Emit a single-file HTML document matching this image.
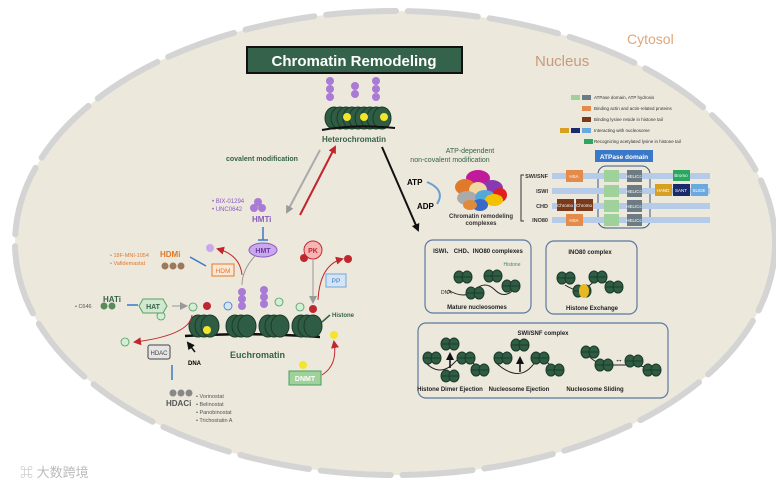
<!DOCTYPE html>
<html><head><meta charset="utf-8"><style>
html,body{margin:0;padding:0;background:#fff;}
svg{display:block;font-family:"Liberation Sans",Arial,sans-serif;}
</style></head><body>
<svg width="776" height="485" viewBox="0 0 776 485" xmlns="http://www.w3.org/2000/svg">
<defs>
<marker id="ab" markerUnits="userSpaceOnUse" markerWidth="8" markerHeight="8" refX="6" refY="4" orient="auto"><path d="M0,0 L8,4 L0,8z" fill="#111"/></marker>
<marker id="ar" markerUnits="userSpaceOnUse" markerWidth="8" markerHeight="8" refX="6" refY="4" orient="auto"><path d="M0,0 L8,4 L0,8z" fill="#c0262d"/></marker>
<marker id="ag" markerUnits="userSpaceOnUse" markerWidth="8" markerHeight="8" refX="6" refY="4" orient="auto"><path d="M0,0 L8,4 L0,8z" fill="#999"/></marker>
<g id="nuc"><ellipse cx="0" cy="0" rx="9" ry="11" fill="#2f5d44" stroke="#1b3a2a"/><ellipse cx="6" cy="0" rx="9" ry="11" fill="#2f5d44" stroke="#1b3a2a"/><ellipse cx="12" cy="0" rx="9" ry="11" fill="#2f5d44" stroke="#1b3a2a"/></g>
<g id="sn"><ellipse cx="-4" cy="0" rx="5" ry="6" fill="#2f5d44" stroke="#1b3a2a"/><ellipse cx="4" cy="0" rx="5" ry="6" fill="#2f5d44" stroke="#1b3a2a"/><line x1="-9" y1="0" x2="9" y2="0" stroke="#1b3a2a"/></g>
</defs>
<rect width="776" height="485" fill="#fff"/>
<ellipse cx="395" cy="243" rx="380" ry="232" fill="#ece8dc"/>
<ellipse cx="395" cy="243" rx="380" ry="232" fill="none" stroke="#d4d4d4" stroke-width="6" stroke-dasharray="70 12" stroke-linecap="round"/>
<text x="627" y="44" font-size="14" fill="#e0a67a">Cytosol</text>
<text x="535" y="66" font-size="15" fill="#c89a7a">Nucleus</text>
<rect x="247" y="47" width="215" height="26" fill="#35624a" stroke="#111" stroke-width="2"/>
<text x="354" y="66" font-size="15" font-weight="bold" fill="#fff" text-anchor="middle">Chromatin  Remodeling</text>
<g>
<use href="#nuc" x="334" y="118"/><use href="#nuc" x="352" y="118"/><use href="#nuc" x="370" y="118"/>
<path d="M322 130 Q355 124 395 128" stroke="#111" stroke-width="2" fill="none"/>
<circle cx="347" cy="117" r="4" fill="#f2e52a"/><circle cx="364" cy="117" r="4" fill="#f2e52a"/><circle cx="384" cy="117" r="4" fill="#f2e52a"/>
<g fill="#a97ad6"><circle cx="330" cy="81" r="4"/><circle cx="330" cy="89" r="4"/><circle cx="330" cy="97" r="4"/><circle cx="355" cy="86" r="4"/><circle cx="355" cy="94" r="4"/><circle cx="376" cy="81" r="4"/><circle cx="376" cy="89" r="4"/><circle cx="376" cy="97" r="4"/></g>
<text x="354" y="142" font-size="8" font-weight="bold" fill="#35624a" text-anchor="middle">Heterochromatin</text>
</g>
<line x1="320" y1="150" x2="287" y2="212" stroke="#aaa" stroke-width="2" marker-end="url(#ag)"/>
<line x1="300" y1="215" x2="335" y2="147" stroke="#c0262d" stroke-width="2" marker-end="url(#ar)"/>
<line x1="382" y1="147" x2="418" y2="230" stroke="#111" stroke-width="2" marker-end="url(#ab)"/>
<text x="226" y="161" font-size="7" font-weight="bold" fill="#35624a">covalent modification</text>
<text x="470" y="153" font-size="7" fill="#35624a" text-anchor="middle">ATP-dependent</text>
<text x="450" y="162" font-size="7" fill="#35624a" text-anchor="middle">non-covalent modification</text>
<text x="407" y="185" font-size="8" font-weight="bold">ATP</text>
<text x="417" y="209" font-size="8" font-weight="bold">ADP</text>
<path d="M427 182 Q446 190 437 204" stroke="#6a9fd0" stroke-width="2" fill="none"/>
<g><ellipse cx="478" cy="178" rx="12" ry="8" fill="#c01a9a"/><ellipse cx="465" cy="187" rx="10" ry="8" fill="#e07a2a"/><ellipse cx="492" cy="188" rx="11" ry="8" fill="#8a3ab0"/><ellipse cx="478" cy="190" rx="9" ry="8" fill="#f2d7a0"/><ellipse cx="500" cy="195" rx="7" ry="7" fill="#e02020"/><ellipse cx="467" cy="198" rx="10" ry="7" fill="#aaa"/><ellipse cx="485" cy="197" rx="10" ry="7" fill="#56a8d8"/><ellipse cx="494" cy="200" rx="9" ry="6" fill="#f5c000"/><ellipse cx="480" cy="205" rx="8" ry="6" fill="#3a6ac8"/><ellipse cx="470" cy="205" rx="7" ry="5" fill="#e08a3a"/></g>
<text x="481" y="218" font-size="6" font-weight="bold" fill="#333" text-anchor="middle">Chromatin remodeling</text>
<text x="481" y="225" font-size="6" font-weight="bold" fill="#333" text-anchor="middle">complexes</text>
<g font-size="4.5" fill="#333">
<rect x="571" y="95" width="9" height="5" fill="#9fd19a"/><rect x="582" y="95" width="9" height="5" fill="#6d7c84"/><text x="594" y="99">ATPase domain, ATP hydrosis</text>
<rect x="582" y="106" width="9" height="5" fill="#e48a4a"/><text x="594" y="110">Binding actin and actin-related proteins</text>
<rect x="582" y="117" width="9" height="5" fill="#7a3a1a"/><text x="594" y="121">Binding lysine reside in histone tail</text>
<rect x="560" y="128" width="9" height="5" fill="#d8a020"/><rect x="571" y="128" width="9" height="5" fill="#1a2a6a"/><rect x="582" y="128" width="9" height="5" fill="#6aa8e0"/><text x="594" y="132">Interacting with nucleosome</text>
<rect x="584" y="139" width="9" height="5" fill="#2aa860"/><text x="594" y="143">Recognizing acetylated lysine in histone tail</text>
</g>
<rect x="595" y="150" width="58" height="12" fill="#3a78c8"/><text x="624" y="159" font-size="6.5" font-weight="bold" fill="#fff" text-anchor="middle">ATPase domain</text>
<rect x="598" y="166" width="52" height="62" rx="8" fill="none" stroke="#3a5a80"/>
<path d="M524 175 L521 175 L521 221 L524 221" stroke="#333" fill="none"/>
<g font-size="5.5" font-weight="bold" fill="#333" text-anchor="end">
<text x="548" y="178">SWI/SNF</text><text x="548" y="193">ISWI</text><text x="548" y="208">CHD</text><text x="548" y="222">INO80</text></g>
<g fill="#b5cbe8"><rect x="552" y="173" width="158" height="6"/><rect x="552" y="188" width="158" height="6"/><rect x="552" y="203" width="158" height="6"/><rect x="552" y="217" width="158" height="6"/></g>
<g font-size="4.5" fill="#fff" text-anchor="middle">
<rect x="566" y="170" width="17" height="12" fill="#e48a4a"/><text x="574" y="178">HSA</text>
<rect x="566" y="214" width="17" height="12" fill="#e48a4a"/><text x="574" y="222">HSA</text>
<rect x="557" y="199" width="17" height="12" fill="#7a3a1a"/><text x="565" y="207">Chromo</text>
<rect x="576" y="199" width="17" height="12" fill="#7a3a1a"/><text x="584" y="207">Chromo</text>
<rect x="604" y="170" width="15" height="12" fill="#9fd19a"/><rect x="604" y="185" width="15" height="12" fill="#9fd19a"/><rect x="604" y="200" width="15" height="12" fill="#9fd19a"/><rect x="604" y="214" width="15" height="12" fill="#9fd19a"/>
<rect x="627" y="170" width="15" height="12" fill="#6d7c84"/><rect x="627" y="185" width="15" height="12" fill="#6d7c84"/><rect x="627" y="200" width="15" height="12" fill="#6d7c84"/><rect x="627" y="214" width="15" height="12" fill="#6d7c84"/>
<text x="634" y="178">HELICc</text><text x="634" y="193">HELICc</text><text x="634" y="208">HELICc</text><text x="634" y="222">HELICc</text>
<rect x="673" y="170" width="17" height="11" fill="#2aa860"/><text x="681" y="177">Bromo</text>
<rect x="655" y="184" width="17" height="12" fill="#d8a020"/><text x="663" y="192">HAND</text>
<rect x="673" y="184" width="17" height="12" fill="#1a2a6a"/><text x="681" y="192">SANT</text>
<rect x="691" y="184" width="17" height="12" fill="#6aa8e0"/><text x="699" y="192">SLIDE</text>
</g>
<g fill="none" stroke="#5a7aa0" stroke-width="1.2">
<rect x="425" y="240" width="106" height="73" rx="8"/><rect x="546" y="241" width="91" height="73" rx="8"/><rect x="418" y="323" width="250" height="75" rx="8"/></g>
<g font-size="6" font-weight="bold" fill="#222" text-anchor="middle">
<text x="478" y="253">ISWI、 CHD、INO80 complexes</text><text x="590" y="254">INO80 complex</text>
<text x="477" y="309">Mature nucleosomes</text><text x="592" y="310">Histone Exchange</text>
<text x="543" y="335">SWI/SNF complex</text>
<text x="450" y="391">Histone Dimer Ejection</text><text x="519" y="391">Nucleosome  Ejection</text><text x="595" y="391">Nucleosome  Sliding</text></g>
<text x="512" y="266" font-size="5" fill="#4a8a5a" text-anchor="middle">Histone</text>
<text x="441" y="294" font-size="5" fill="#222">DNA</text>
<path d="M448 290 Q465 300 475 290 Q485 280 495 290 Q505 300 515 288" stroke="#222" fill="none"/>
<use href="#sn" x="463" y="277"/><use href="#sn" x="475" y="293"/><use href="#sn" x="493" y="276"/><use href="#sn" x="511" y="286"/>
<path d="M565 285 Q580 295 590 285 Q600 275 615 288" stroke="#222" fill="none"/>
<use href="#sn" x="566" y="278"/><use href="#sn" x="582" y="291"/><use href="#sn" x="598" y="277"/><use href="#sn" x="614" y="287"/>
<ellipse cx="584" cy="291" rx="5" ry="7" fill="#e8b820"/>
<path d="M425 362 Q440 378 455 362 Q465 352 480 370" stroke="#222" fill="none"/>
<use href="#sn" x="432" y="358"/><use href="#sn" x="450" y="376"/><use href="#sn" x="466" y="358"/><use href="#sn" x="480" y="370"/><use href="#sn" x="450" y="344"/>
<line x1="450" y1="368" x2="450" y2="354" stroke="#111" stroke-width="1.5" marker-end="url(#ab)"/>
<path d="M495 362 Q520 385 535 362 Q545 355 555 372" stroke="#222" fill="none"/>
<use href="#sn" x="503" y="358"/><use href="#sn" x="520" y="345"/><use href="#sn" x="540" y="358"/><use href="#sn" x="555" y="370"/>
<line x1="520" y1="372" x2="520" y2="358" stroke="#111" stroke-width="1.5" marker-end="url(#ab)"/>
<path d="M585 352 Q595 365 610 365 L630 365 Q645 365 655 372" stroke="#222" fill="none"/>
<use href="#sn" x="590" y="352"/><use href="#sn" x="604" y="365"/><use href="#sn" x="634" y="361"/><use href="#sn" x="652" y="370"/>
<text x="619" y="362" font-size="8" text-anchor="middle">↔</text>
<path d="M185 336 Q250 332 320 337" stroke="#111" stroke-width="2.5" fill="none"/>
<use href="#nuc" x="198" y="326"/><use href="#nuc" x="235" y="326"/><use href="#nuc" x="268" y="326"/><use href="#nuc" x="301" y="326"/>
<circle cx="207" cy="330" r="4" fill="#f2e52a"/><circle cx="334" cy="335" r="4" fill="#f2e52a"/>
<g fill="#a97ad6"><circle cx="242" cy="292" r="4"/><circle cx="242" cy="299" r="4"/><circle cx="242" cy="306" r="4"/><circle cx="264" cy="290" r="4"/><circle cx="264" cy="297" r="4"/><circle cx="264" cy="304" r="4"/></g>
<g fill="#d5ecd5" stroke="#4aa060" stroke-width="0.8"><circle cx="193" cy="307" r="4"/><circle cx="279" cy="302" r="4"/><circle cx="300" cy="307" r="4"/><circle cx="125" cy="342" r="4"/><circle cx="161" cy="316" r="4"/></g>
<circle cx="228" cy="306" r="4" fill="#d5e4f5" stroke="#3a78c8" stroke-width="0.8"/>
<g fill="#c0262d"><circle cx="207" cy="306" r="4"/><circle cx="313" cy="309" r="4"/><circle cx="304" cy="258" r="4"/><circle cx="348" cy="259" r="4"/></g>
<text x="230" y="358" font-size="9" font-weight="bold" fill="#35624a">Euchromatin</text>
<text x="188" y="365" font-size="6" font-weight="bold">DNA</text>
<line x1="195" y1="352" x2="188" y2="343" stroke="#111" stroke-width="1.5" marker-end="url(#ab)"/>
<text x="332" y="317" font-size="6" font-weight="bold" fill="#35624a">Histone</text>
<line x1="330" y1="315" x2="322" y2="322" stroke="#35624a" stroke-width="1.5"/>
<g fill="#a97ad6"><circle cx="258" cy="202" r="4"/><circle cx="254" cy="208" r="4"/><circle cx="262" cy="208" r="4"/></g>
<text x="252" y="222" font-size="8" font-weight="bold" fill="#8a5ac0">HMTi</text>
<text x="212" y="203" font-size="6" fill="#8a5ac0">• BIX-01294</text><text x="212" y="211" font-size="6" fill="#8a5ac0">• UNC0642</text>
<line x1="263" y1="227" x2="263" y2="240" stroke="#3a78c8" stroke-width="1.5"/><line x1="258" y1="240" x2="268" y2="240" stroke="#3a78c8" stroke-width="1.5"/>
<ellipse cx="263" cy="250" rx="14" ry="7" fill="#c9a8ec" stroke="#8a5ac0"/><text x="263" y="253" font-size="7" font-weight="bold" fill="#6a3aa0" text-anchor="middle">HMT</text>
<path d="M255 256 Q242 270 242 285" stroke="#999" fill="none"/>
<text x="160" y="257" font-size="8" font-weight="bold" fill="#e07a2a">HDMi</text>
<text x="110" y="257" font-size="5.5" fill="#e07a2a">• 18F-MNI-1054</text><text x="110" y="265" font-size="5.5" fill="#e07a2a">• Vafidemastat</text>
<g fill="#9a7a5a"><circle cx="165" cy="266" r="3.5"/><circle cx="173" cy="266" r="3.5"/><circle cx="181" cy="266" r="3.5"/></g>
<line x1="190" y1="257" x2="206" y2="266" stroke="#3a78c8" stroke-width="1.5"/>
<rect x="212" y="264" width="22" height="12" fill="#fbe5d5" stroke="#e07a2a"/><text x="223" y="273" font-size="6.5" fill="#e07a2a" text-anchor="middle">HDM</text>
<circle cx="210" cy="248" r="4" fill="#c9a8ec"/>
<path d="M242 275 Q240 255 218 249" stroke="#c0262d" fill="none" marker-end="url(#ar)"/>
<text x="103" y="302" font-size="8" font-weight="bold" fill="#35624a">HATi</text>
<text x="75" y="308" font-size="5.5" fill="#555">• C646</text>
<g fill="#5a8a5a"><circle cx="104" cy="306" r="3.5"/><circle cx="112" cy="306" r="3.5"/></g>
<line x1="127" y1="305" x2="138" y2="305" stroke="#3a78c8" stroke-width="1.5"/>
<polygon points="143,299 163,299 167,306 163,313 143,313 139,306" fill="#cfe8cf" stroke="#5aa060"/>
<text x="153" y="309" font-size="7" font-weight="bold" fill="#35624a" text-anchor="middle">HAT</text>
<line x1="172" y1="306" x2="186" y2="306" stroke="#999" marker-end="url(#ag)"/>
<path d="M192 315 Q190 335 135 342" stroke="#c0262d" fill="none" marker-end="url(#ar)"/>
<rect x="148" y="345" width="22" height="14" rx="2" fill="#e5e5e5" stroke="#444"/><text x="159" y="355" font-size="6" fill="#444" text-anchor="middle">HDAC</text>
<line x1="172" y1="380" x2="172" y2="365" stroke="#3a78c8" stroke-width="1.5"/>
<g fill="#888"><circle cx="173" cy="393" r="3.5"/><circle cx="181" cy="393" r="3.5"/><circle cx="189" cy="393" r="3.5"/></g>
<text x="166" y="406" font-size="8" font-weight="bold" fill="#555">HDACi</text>
<g font-size="5.5" fill="#555"><text x="196" y="398">• Vorinostat</text><text x="196" y="406">• Belinostat</text><text x="196" y="414">• Panobinostat</text><text x="196" y="422">• Trichostatin A</text></g>
<circle cx="313" cy="250" r="9" fill="#f5b5b5" stroke="#c0262d"/><text x="313" y="253" font-size="7" font-weight="bold" fill="#c0262d" text-anchor="middle">PK</text>
<line x1="313" y1="260" x2="313" y2="302" stroke="#999" marker-end="url(#ag)"/>
<path d="M318 300 Q320 265 342 259" stroke="#c0262d" fill="none" marker-end="url(#ar)"/>
<rect x="326" y="274" width="20" height="13" fill="#d5e4f5" stroke="#6aa8e0"/><text x="336" y="283" font-size="6.5" fill="#3a78c8" text-anchor="middle">PP</text>
<rect x="289" y="371" width="32" height="14" fill="#9fd19a" stroke="#4aa060"/><text x="305" y="381" font-size="7" font-weight="bold" fill="#fff" text-anchor="middle">DNMT</text>
<circle cx="303" cy="365" r="4" fill="#f2e52a"/>
<path d="M322 375 Q338 365 334 342" stroke="#c0262d" fill="none" marker-end="url(#ar)"/>
<text x="20" y="477" font-size="13" fill="#bbb">⌘ 大数跨境</text>
</svg>
</body></html>
